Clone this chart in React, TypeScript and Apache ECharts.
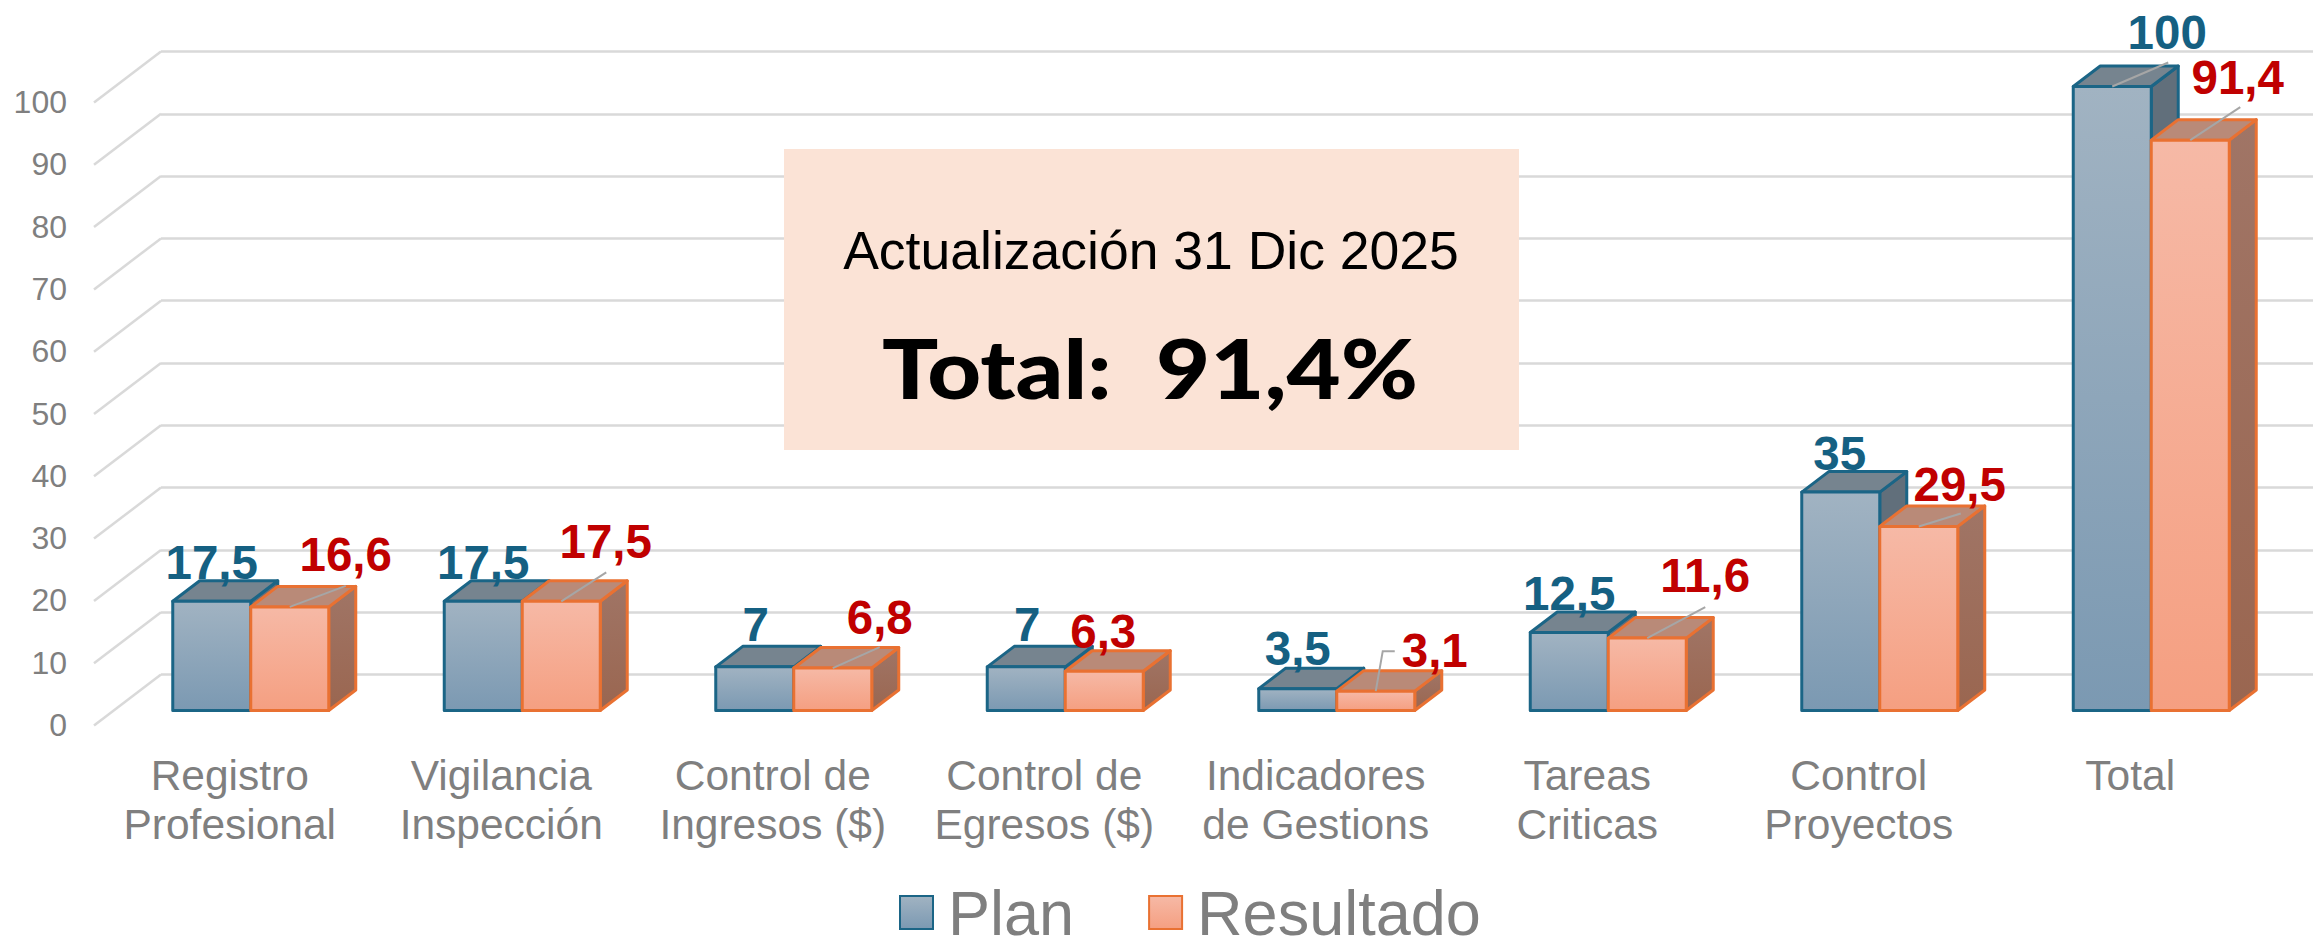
import React, { useEffect, useRef } from "react";
import * as echarts from "echarts";

const categories = [
  "Registro\nProfesional",
  "Vigilancia\nInspección",
  "Control de\nIngresos ($)",
  "Control de\nEgresos ($)",
  "Indicadores\nde Gestions",
  "Tareas\nCriticas",
  "Control\nProyectos",
  "Total",
];
const planValues = [17.5, 17.5, 7, 7, 3.5, 12.5, 35, 100];
const resultValues = [16.6, 17.5, 6.8, 6.3, 3.1, 11.6, 29.5, 91.4];
const gridValues = [0, 10, 20, 30, 40, 50, 60, 70, 80, 90, 100];

// hand-placed label offsets from the centre of each bar's front top edge
const planLabelOffsets = [[0, -39], [0, -39], [1, -42], [1, -42], [0, -40], [0, -39.5], [-1, -39], [55, -54]];
const resultLabelOffsets = [[56, -52], [44.5, -60], [47, -51], [-1, -40], [59, -41], [58, -63], [41, -42], [47.5, -63]];
// leader-line polylines, relative to the same anchor
const planLeaders: (number[][] | null)[] = [null, null, null, null, null, null, null, [[0, 0], [56, -24]]];
const resultLeaders: (number[][] | null)[] = [
  [[0, 0], [56, -21]],
  [[0, 0], [45, -29]],
  [[0, 0], [47, -21]],
  null,
  [[0, 0], [7, -40], [19, -40]],
  [[0, 0], [58, -31]],
  [[0, 0], [42, -13]],
  [[0, 0], [50, -33]],
];

const BAR_W = 78;
const DEPTH_X = 27;
const DEPTH_Y = 20.5;
const FONT = '"Liberation Sans", Arial, sans-serif';

const grad = (a: string, b: string) => ({
  type: "linear", x: 0, y: 0, x2: 0, y2: 1,
  colorStops: [{ offset: 0, color: a }, { offset: 1, color: b }],
});

const planStyle = {
  stroke: "#1b6586",
  front: grad("#a1b3c2", "#7b99b2"),
  top: "#76848f",
  side: "#616f7b",
};
const resultStyle = {
  stroke: "#E97132",
  front: grad("#f6b9a6", "#f59f81"),
  top: "#b98a78",
  side: grad("#a07566", "#9a6650"),
};

function barItem(side: number, st: any) {
  return (_p: any, api: any) => {
    const [cx, yTop] = api.coord([api.value(0), api.value(1)]);
    const [, y0] = api.coord([api.value(0), 0]);
    const x0 = side < 0 ? cx - BAR_W : cx;
    const x1 = x0 + BAR_W;
    const common = { stroke: st.stroke, lineWidth: 3, lineJoin: "round" };
    return {
      type: "group",
      children: [
        {
          type: "polygon",
          shape: { points: [[x1, yTop], [x1 + DEPTH_X, yTop - DEPTH_Y], [x1 + DEPTH_X, y0 - DEPTH_Y], [x1, y0]] },
          style: { fill: st.side, ...common },
        },
        {
          type: "polygon",
          shape: { points: [[x0, yTop], [x0 + DEPTH_X, yTop - DEPTH_Y], [x1 + DEPTH_X, yTop - DEPTH_Y], [x1, yTop]] },
          style: { fill: st.top, ...common },
        },
        {
          type: "rect",
          shape: { x: x0, y: yTop, width: BAR_W, height: y0 - yTop },
          style: { fill: st.front, ...common },
        },
      ],
    };
  };
}

function labelItem(side: number, color: string, offsets: number[][], leaders: (number[][] | null)[]) {
  return (_p: any, api: any) => {
    const i = api.value(0);
    const v = api.value(1);
    const [cx, yTop] = api.coord([i, v]);
    const ax = cx + (side * BAR_W) / 2;
    const [ox, oy] = offsets[i];
    const children: any[] = [];
    const lead = leaders[i];
    if (lead) {
      children.push({
        type: "polyline",
        shape: { points: lead.map(([a, b]) => [ax + a, yTop + b]) },
        style: { stroke: "#a6a6a6", lineWidth: 2, fill: "none" },
      });
    }
    children.push({
      type: "text",
      style: {
        text: String(v).replace(".", ","),
        x: ax + ox,
        y: yTop + oy,
        align: "center",
        verticalAlign: "middle",
        fill: color,
        font: `bold 47.5px ${FONT}`,
      },
    });
    return { type: "group", children };
  };
}

const toPairs = (vals: number[]) => vals.map((v, i) => [i, v]);

const BAR_AXES = { xAxisIndex: 1, yAxisIndex: 1 };

const option: any = {
  animation: false,
  backgroundColor: "#ffffff",
  grid: [
    { left: 94, width: 2172, top: 102, height: 623 },
    { left: 115, width: 2172, top: 86.5, height: 624 },
    { left: 161, right: 0, top: 51.5, height: 623 },
  ],
  xAxis: [
    {
      gridIndex: 0,
      type: "category",
      data: categories,
      axisLine: { show: false },
      axisTick: { show: false },
      axisLabel: { color: "#7f7f7f", fontSize: 42.5, fontFamily: FONT, lineHeight: 49, margin: 26, interval: 0 },
    },
    { gridIndex: 1, type: "category", data: categories, show: false },
    { gridIndex: 2, type: "value", min: 0, max: 1, show: false },
  ],
  yAxis: [
    {
      gridIndex: 0,
      type: "value",
      min: 0,
      max: 100,
      interval: 10,
      axisLine: { show: false },
      axisTick: { show: false },
      splitLine: { show: false },
      axisLabel: { color: "#7f7f7f", fontSize: 32, fontFamily: FONT, margin: 27 },
    },
    { gridIndex: 1, type: "value", min: 0, max: 100, show: false },
    {
      gridIndex: 2,
      type: "value",
      min: 0,
      max: 100,
      interval: 10,
      axisLine: { show: false },
      axisTick: { show: false },
      axisLabel: { show: false },
      splitLine: { show: true, lineStyle: { color: "#d9d9d9", width: 2.5 } },
    },
  ],
  legend: {
    left: 899,
    top: 881,
    icon: "rect",
    itemWidth: 33,
    itemHeight: 33,
    itemGap: 74,
    data: ["Plan", "Resultado"],
    textStyle: { color: "#7f7f7f", fontSize: 63, fontFamily: FONT, padding: [0, 0, 0, 10] },
    padding: 0,
    selectedMode: false,
  },
  series: [
    {
      type: "custom",
      name: "grid-depth",
      xAxisIndex: 2,
      yAxisIndex: 2,
      data: gridValues.map((v) => [0, v]),
      silent: true,
      z: 1,
      renderItem: (_p: any, api: any) => {
        const [x, y] = api.coord([0, api.value(1)]);
        return {
          type: "line",
          shape: { x1: x - 67, y1: y + 51, x2: x, y2: y },
          style: { stroke: "#d9d9d9", lineWidth: 2.5 },
        };
      },
    },
    {
      type: "custom",
      name: "Plan",
      ...BAR_AXES,
      data: toPairs(planValues),
      z: 3,
      itemStyle: { color: planStyle.front, borderColor: planStyle.stroke, borderWidth: 2.5 },
      renderItem: barItem(-1, planStyle),
    },
    {
      type: "custom",
      name: "Resultado",
      ...BAR_AXES,
      data: toPairs(resultValues),
      z: 4,
      itemStyle: { color: resultStyle.front, borderColor: resultStyle.stroke, borderWidth: 2.5 },
      renderItem: barItem(1, resultStyle),
    },
    {
      type: "custom",
      name: "Plan labels",
      ...BAR_AXES,
      data: toPairs(planValues),
      z: 5,
      renderItem: labelItem(-1, "#156082", planLabelOffsets, planLeaders),
    },
    {
      type: "custom",
      name: "Resultado labels",
      ...BAR_AXES,
      data: toPairs(resultValues),
      z: 5,
      renderItem: labelItem(1, "#C00000", resultLabelOffsets, resultLeaders),
    },
  ],
  graphic: [
    { type: "rect", z: 100, shape: { x: 784, y: 149, width: 735, height: 301 }, style: { fill: "#fbe3d6" } },
    {
      type: "text",
      z: 101,
      style: {
        text: "Actualización 31 Dic 2025",
        x: 1151,
        y: 250,
        align: "center",
        verticalAlign: "middle",
        fill: "#000000",
        font: `53.5px ${FONT}`,
      },
    },
    {
      type: "text",
      z: 101,
      x: 1150,
      y: 367,
      scaleX: 1.14,
      style: {
        text: "Total:  91,4%",
        x: 0,
        y: 0,
        align: "center",
        verticalAlign: "middle",
        fill: "#000000",
        font: `900 82px Lato, sans-serif`,
      },
    },
  ],
};

export default function App() {
  const ref = useRef<HTMLDivElement>(null);
  useEffect(() => {
    const chart = echarts.init(ref.current!, undefined, { renderer: "svg" });
    chart.setOption(option);
    return () => chart.dispose();
  }, []);
  return <div ref={ref} style={{ position: "fixed", left: 0, top: 0, width: 2313, height: 936 }} />;
}
